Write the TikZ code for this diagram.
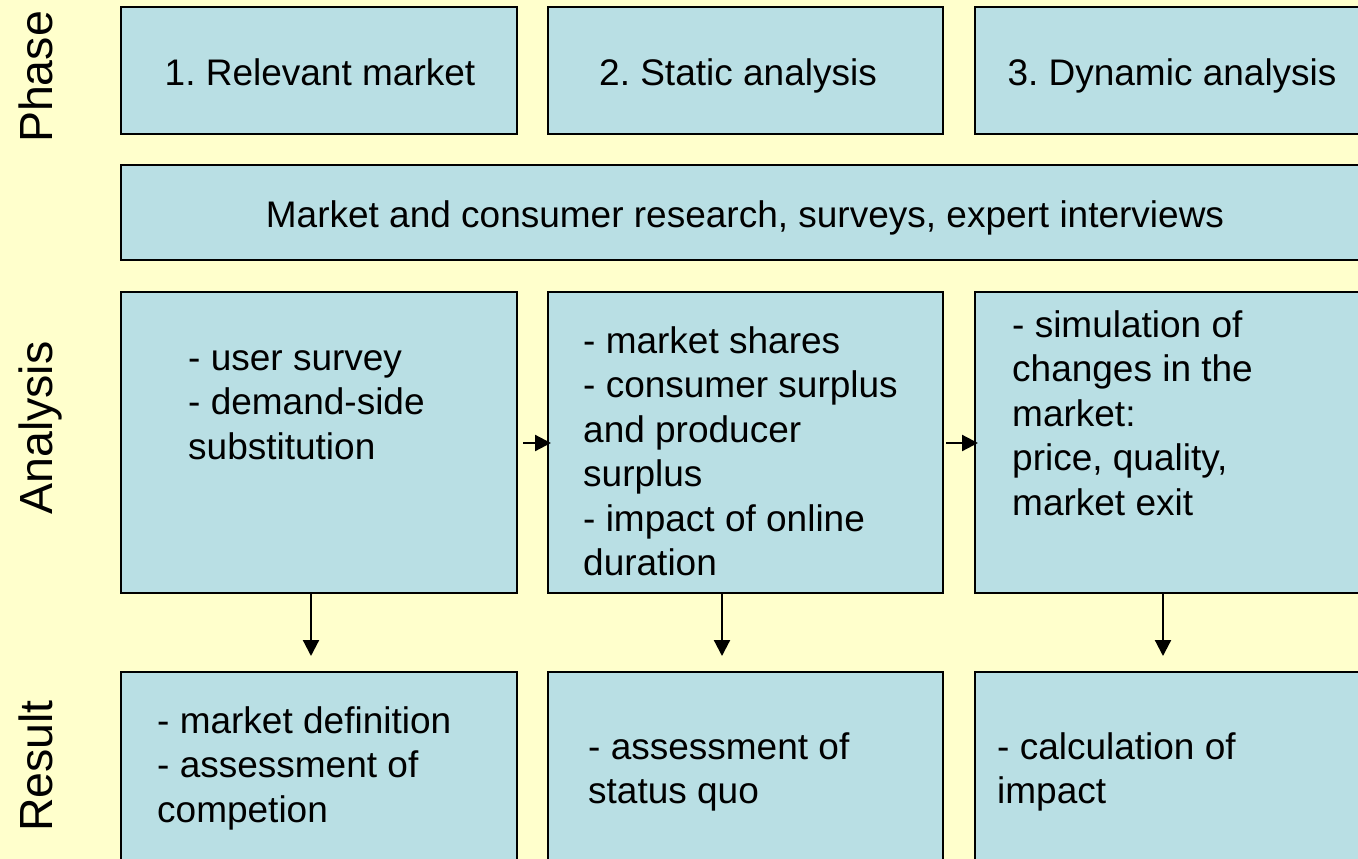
\documentclass[tikz,border=0pt]{standalone}
\usepackage{fontspec}
\setmainfont{Liberation Sans}
\usetikzlibrary{arrows.meta}
\definecolor{bgyellow}{HTML}{FFFFCC}
\definecolor{boxblue}{HTML}{B9DFE4}
\frenchspacing
\begin{document}
\begin{tikzpicture}[x=1pt,y=-1pt,
  panel/.style={draw=black,line width=1.8pt,fill=boxblue},
  lbl/.style={font=\fontsize{37}{44.5}\selectfont,inner sep=0pt,anchor=base},
  blk/.style={font=\fontsize{37}{44.5}\selectfont,inner sep=0pt,align=left,anchor=base west},
  side/.style={font=\fontsize{46.5}{50}\selectfont,inner sep=0pt,rotate=90,anchor=base},
  arr/.style={-{Triangle[length=16pt,width=16pt]},line width=2.2pt}]
\useasboundingbox (0,0) rectangle (1358,859);
\fill[bgyellow] (0,0) rectangle (1358,859);
% row 1
\draw[panel] (121,7) rectangle (517,134);
\draw[panel] (548,7) rectangle (943,134);
\draw[panel] (975,7) rectangle (1372,134);
\node[lbl] (p1) at (320,85) {1. Relevant market};
\node[lbl] (p2) at (738,85) {2. Static analysis};
\node[lbl] (p3) at (1172,85) {3. Dynamic analysis};
% row 2
\draw[panel] (121,165) rectangle (1372,260);
\node[lbl] (res) at (745,227) {Market and consumer research, surveys, expert interviews};
% row 3
\draw[panel] (121,292) rectangle (517,593);
\draw[panel] (548,292) rectangle (943,593);
\draw[panel] (975,292) rectangle (1372,593);
\coordinate (a1b) at (311,594);
\coordinate (a2b) at (722,594);
\coordinate (a3b) at (1163,594);
\coordinate (a1r) at (523,443);
\coordinate (a2l) at (551,443);
\coordinate (a2r) at (946,443);
\coordinate (a3l) at (978,443);
% base anchor = baseline of last line
\node[blk] (t1) at (188,459) {- user survey\\- demand-side\\substitution};
\node[blk] (t2) at (583,575.5) {- market shares\\- consumer surplus\\and producer\\surplus\\- impact of online\\duration};
\node[blk] (t3) at (1012,515) {- simulation of\\changes in the\\market:\\price, quality,\\market exit};
% row 4
\draw[panel] (121,672) rectangle (517,875);
\draw[panel] (548,672) rectangle (943,875);
\draw[panel] (975,672) rectangle (1372,875);
\coordinate (r1t) at (311,656);
\coordinate (r2t) at (722,656);
\coordinate (r3t) at (1163,656);
\node[blk] (u1) at (157,822) {- market definition\\- assessment of\\competion};
\node[blk] (u2) at (588,803.5) {- assessment of\\status quo};
\node[blk] (u3) at (997,803.5) {- calculation of\\impact};
% arrows
\draw[arr] (a1b) -- (r1t);
\draw[arr] (a2b) -- (r2t);
\draw[arr] (a3b) -- (r3t);
\draw[arr] (a1r) -- (a2l);
\draw[arr] (a2r) -- (a3l);
% side labels
\node[side] (sphase) at (52,77) {Phase};
\node[side] (sanal) at (52,428) {Analysis};
\node[side] (sres) at (52,766) {Result};
\end{tikzpicture}
\end{document}
